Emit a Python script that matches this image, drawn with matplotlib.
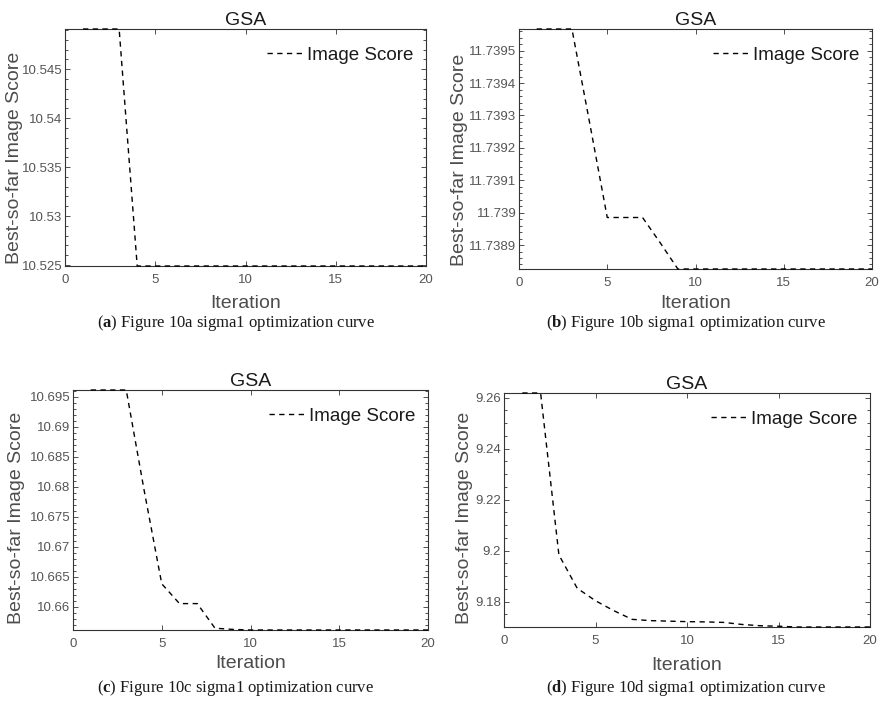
import matplotlib
matplotlib.use('Agg')
import matplotlib.pyplot as plt
from matplotlib.ticker import AutoMinorLocator, FuncFormatter

plt.rcParams['font.family'] = ['Liberation Sans', 'DejaVu Sans']
plt.rcParams['mathtext.fontset'] = 'custom'
plt.rcParams['mathtext.bf'] = 'Liberation Serif:bold'
plt.rcParams['mathtext.rm'] = 'Liberation Serif'

# iterations 1..20, best score so far
iteration = [1, 2, 3, 4, 5, 6, 7, 8, 9, 10, 11, 12, 13, 14, 15, 16, 17, 18, 19, 20]

score_a = [10.5491, 10.5491, 10.5491, 10.5249, 10.5249, 10.5249, 10.5249, 10.5249, 10.5249, 10.5249,
           10.5249, 10.5249, 10.5249, 10.5249, 10.5249, 10.5249, 10.5249, 10.5249, 10.5249, 10.5249]
score_b = [11.739567, 11.739567, 11.739567, 11.739278, 11.738985, 11.738985, 11.738985, 11.738907, 11.738826, 11.738826,
           11.738826, 11.738826, 11.738826, 11.738826, 11.738826, 11.738826, 11.738826, 11.738826, 11.738826, 11.738826]
score_c = [10.6961, 10.6961, 10.6961, 10.6795, 10.6638, 10.6605, 10.6605, 10.6564, 10.6562, 10.6561,
           10.6561, 10.6561, 10.6561, 10.6561, 10.6561, 10.6561, 10.6561, 10.6561, 10.6561, 10.6561]
score_d = [9.2618, 9.2618, 9.1983, 9.1852, 9.1803, 9.1764, 9.1730, 9.1725, 9.1723, 9.1721,
           9.1720, 9.1718, 9.1710, 9.1705, 9.1703, 9.1700, 9.1700, 9.1700, 9.1700, 9.1700]

yticks_a = [10.525, 10.53, 10.535, 10.54, 10.545]
yticks_b = [11.7389, 11.739, 11.7391, 11.7392, 11.7393, 11.7394, 11.7395]
yticks_c = [10.66, 10.665, 10.67, 10.675, 10.68, 10.685, 10.69, 10.695]
yticks_d = [9.18, 9.2, 9.22, 9.24, 9.26]
xticks = [0, 5, 10, 15, 20]

captions = ['a', 'b', 'c', 'd']
caption_text = ['Figure 10a sigma1 optimization curve', 'Figure 10b sigma1 optimization curve',
                'Figure 10c sigma1 optimization curve', 'Figure 10d sigma1 optimization curve']

W, H = 882, 708
fig = plt.figure(figsize=(W / 100, H / 100), dpi=100)

def fmt(v, pos):
    s = f'{v:.6f}'.rstrip('0').rstrip('.')
    return s

def panel(box, scores, yticks, minor_n, ylab_x, ylab_y, xlab_off):
    l, t, r, b = box
    ax = fig.add_axes([l / W, 1 - b / H, (r - l) / W, (b - t) / H])
    line, = ax.plot(iteration, scores, color='black', lw=1.0, ls='--', clip_on=False, zorder=3)
    line.set_dashes((3.8, 3.2))
    ax.set_xlim(0, 20)
    ax.set_ylim(min(scores), max(scores))
    ax.set_xticks(xticks)
    ax.set_yticks(yticks)
    ax.yaxis.set_major_formatter(FuncFormatter(fmt))
    ax.yaxis.set_minor_locator(AutoMinorLocator(minor_n))
    ax.tick_params(which='both', direction='in', top=True, right=True, colors='#333333',
                   labelcolor='#555555', labelsize=9.5, width=0.6)
    ax.tick_params(which='major', length=3.5)
    ax.tick_params(axis='x', which='major', pad=6)
    ax.tick_params(axis='y', which='major', pad=2)
    ax.tick_params(which='minor', length=2)
    for s in ax.spines.values():
        s.set_color('#333333')
        s.set_linewidth(0.8)
    ax.set_title('GSA', fontsize=14, pad=1.5, color='#1a1a1a')
    ax.set_xlabel('Iteration', fontsize=14, color='#4d4d4d')
    ax.xaxis.set_label_coords(0.5, -xlab_off / (b - t))
    ax.xaxis.label.set_verticalalignment('center')
    ax.set_ylabel('Best-so-far Image Score', fontsize=14, color='#4d4d4d')
    ax.yaxis.set_label_coords(ylab_x, ylab_y)
    ax.yaxis.label.set_verticalalignment('center')
    leg = ax.legend([line], ['Image Score'], loc='upper right', frameon=False, fontsize=13.5,
                    handlelength=1.9, handletextpad=0.2, borderaxespad=0.55,
                    bbox_to_anchor=(1 + 5 / (r - l), 1))
    for txt in leg.get_texts():
        txt.set_color('#1a1a1a')
    return ax

panel((65, 29, 426, 266), score_a, yticks_a, 5, -0.14, 0.456, 38)
panel((519, 29, 872, 269), score_b, yticks_b, 5, -0.168, 0.455, 35)
panel((73, 390, 428, 630), score_c, yticks_c, 5, -0.16, 0.467, 33)
panel((504, 393, 870, 627), score_d, yticks_d, 4, -0.108, 0.466, 38)

cap_pos = [(236, 323), (686, 323), (236, 688), (686, 688)]
for (cx, cy), letter, txt in zip(cap_pos, captions, caption_text):
    fig.text(cx / W, 1 - cy / H, r'($\mathbf{' + letter + '}$) ' + txt, ha='center', va='center',
             family='Liberation Serif', fontsize=12, color='#1a1a1a')

fig.savefig('out.png', dpi=100)
